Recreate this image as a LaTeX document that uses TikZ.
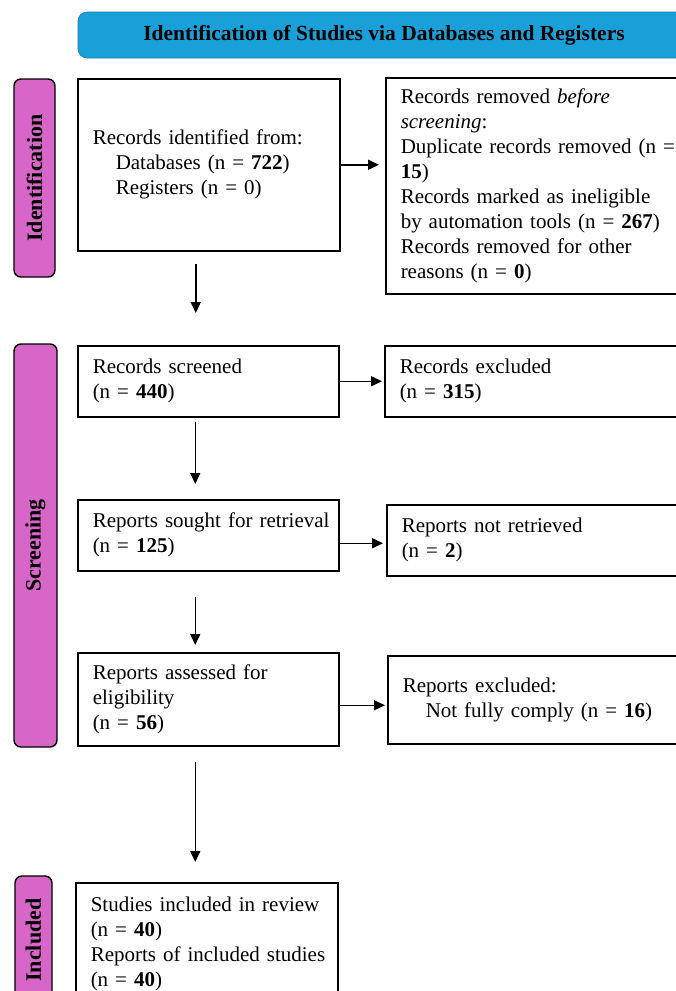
\documentclass[tikz,border=0pt]{standalone}
\usepackage{fontspec}
\setmainfont{Liberation Serif}
\usetikzlibrary{arrows.meta,calc}
\definecolor{headblue}{RGB}{26,160,216}
\definecolor{stagepink}{RGB}{216,102,200}
% one unbreakable line of box text
\newcommand{\bxline}[1]{\mbox{#1}}

\begin{document}
\begin{tikzpicture}[x=1pt,y=-1pt,
  box/.style={draw=black, line width=1.5pt, anchor=north west,
    inner xsep=14pt, inner ysep=0pt, align=left,
    font=\fontsize{21}{25}\selectfont},
  stage/.style={draw=black, line width=1.4pt, fill=stagepink,
    rounded corners=7pt, rotate=90, inner sep=0pt,
    font=\fontsize{22}{26}\selectfont\bfseries},
  arr/.style={line width=1.5pt, -{Triangle[length=11pt,width=10pt]}}
]
\useasboundingbox (0,0) rectangle (675,991);

% banner
\node[draw=headblue!80!black, line width=0.6pt, fill=headblue,
      rounded corners=9pt, minimum width=612pt, minimum height=46pt,
      font=\fontsize{21.5}{25}\selectfont\bfseries] (head) at (384,35)
  {Identification of Studies via Databases and Registers};

% phase labels
\node[stage, minimum width=198pt, minimum height=41pt] (lid) at (34.5,178) {Identification};
\node[stage, minimum width=403pt, minimum height=43pt] (lsc) at (35.5,545.5) {Screening};
\node[stage, minimum width=128pt, minimum height=37pt] (lin) at (33.5,940) {Included};

% identification
\node[box, minimum width=262pt, minimum height=172pt, text width=232pt] (ident) at (77,78)
  {\bxline{Records identified from:}\\
   \bxline{\hspace*{23pt}Databases (n = \textbf{722})}\\
   \bxline{\hspace*{23pt}Registers (n = 0)}};
\node[box, minimum width=315pt, minimum height=216pt, text width=285pt] (removed) at (385,77)
  {\bxline{Records removed \textit{before}}\\
   \bxline{\textit{screening}:}\\
   \bxline{Duplicate records removed (n =}\\
   \bxline{\textbf{15})}\\
   \bxline{Records marked as ineligible}\\
   \bxline{by automation tools (n = \textbf{267})}\\
   \bxline{Records removed for other}\\
   \bxline{reasons (n = \textbf{0})}};

% screening
\node[box, minimum width=261pt, minimum height=71pt, text width=231pt] (screened) at (77,345)
  {\bxline{Records screened}\\\bxline{(n = \textbf{440})}};
\node[box, minimum width=316pt, minimum height=71pt, text width=286pt] (excluded) at (384,345)
  {\bxline{Records excluded}\\\bxline{(n = \textbf{315})}};

\node[box, minimum width=261pt, minimum height=71pt, text width=231pt] (sought) at (77,499)
  {\bxline{Reports sought for retrieval}\\\bxline{(n = \textbf{125})}};
\node[box, minimum width=314pt, minimum height=71pt, text width=284pt] (notret) at (386,504)
  {\bxline{Reports not retrieved}\\\bxline{(n = \textbf{2})}};

\node[box, minimum width=261pt, minimum height=93pt, text width=231pt] (assessed) at (77,652)
  {\bxline{Reports assessed for}\\\bxline{eligibility}\\\bxline{(n = \textbf{56})}};
\node[box, minimum width=313pt, minimum height=88pt, text width=283pt] (rexcl) at (387,655)
  {\bxline{Reports excluded:}\\
   \bxline{\hspace*{23pt}Not fully comply (n = \textbf{16})}};

% included
\node[box, minimum width=262pt, inner ysep=14pt, text width=232pt] (included) at (75,882)
  {\bxline{Studies included in review}\\\bxline{(n = \textbf{40})}\\
   \bxline{Reports of included studies}\\\bxline{(n = \textbf{40})}};

% flow down the left column
\draw[arr, shorten <=12pt, shorten >=32pt] ([xshift=-13pt]ident.south) -- ([xshift=-13pt]ident.south |- screened.north);
\draw[arr, shorten <=4pt, shorten >=15pt] ([xshift=-13pt]screened.south) -- ([xshift=-13pt]screened.south |- sought.north);
\draw[arr, shorten <=25pt, shorten >=7pt] ([xshift=-13pt]sought.south) -- ([xshift=-13pt]sought.south |- assessed.north);
\draw[arr, shorten <=15pt, shorten >=20pt] ([xshift=-13pt]assessed.south) -- ([xshift=-13pt]assessed.south |- included.north);

% exclusions to the right
\draw[arr, shorten >=6pt] (ident.east) -- (ident.east -| removed.west);
\draw[arr, shorten >=2pt] (screened.east) -- (screened.east -| excluded.west);
\draw[arr, shorten >=3pt] ([yshift=-8pt]sought.east) -- ([yshift=-8pt]sought.east -| notret.west);
\draw[arr, shorten >=2pt] ([yshift=-6pt]assessed.east) -- ([yshift=-6pt]assessed.east -| rexcl.west);
\end{tikzpicture}
\end{document}
